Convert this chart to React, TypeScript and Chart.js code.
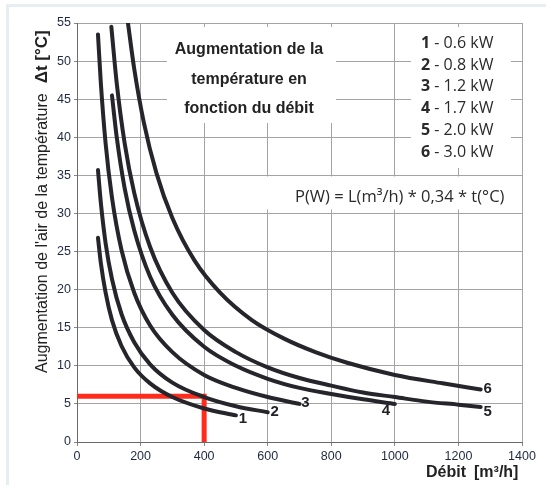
import React, { useEffect, useRef } from "react";
import { Chart, registerables } from "chart.js";

Chart.register(...registerables);

// ---- data ----
const xTicks = [0, 200, 400, 600, 800, 1000, 1200, 1400];
const yTicks = [0, 5, 10, 15, 20, 25, 30, 35, 40, 45, 50, 55];

const curveNames = ["1", "2", "3", "4", "5", "6"];

const flow1 = [66, 75, 90, 110, 140, 180, 230, 300, 400, 500];
const temp1 = [26.8, 23.5, 19.6, 16.0, 12.6, 9.8, 7.7, 5.9, 4.4, 3.5];

const flow2 = [66, 75, 90, 110, 140, 180, 230, 300, 400, 500, 600];
const temp2 = [35.7, 31.4, 26.1, 21.4, 16.8, 13.1, 10.2, 7.8, 5.9, 4.7, 3.9];

const flow3 = [66, 75, 90, 110, 140, 180, 230, 300, 400, 500, 600, 700];
const temp3 = [53.5, 47.1, 39.2, 32.1, 25.2, 19.6, 15.3, 11.8, 8.8, 7.1, 5.9, 5.0];

const flow4 = [110, 125, 150, 180, 230, 300, 400, 500, 600, 700, 800, 900, 1000];
const temp4 = [45.5, 40.0, 33.3, 27.8, 21.7, 16.7, 12.5, 10.0, 8.3, 7.1, 6.3, 5.6, 5.0];

const flow5 = [108, 125, 150, 180, 230, 300, 400, 500, 600, 700, 800, 900, 1000, 1100, 1200, 1270];
const temp5 = [54.5, 47.1, 39.2, 32.7, 25.6, 19.6, 14.7, 11.8, 9.8, 8.4, 7.4, 6.5, 5.9, 5.3, 4.9, 4.6];

const flow6 = [160, 180, 210, 250, 300, 370, 450, 550, 650, 750, 850, 1000, 1150, 1270];
const temp6 = [55.1, 49.0, 42.0, 35.3, 29.4, 23.8, 19.6, 16.0, 13.6, 11.8, 10.4, 8.8, 7.7, 6.9];

const redFlow = [0, 400, 400];
const redTemp = [6, 6, 0];

const legendNumbers = ["1", "2", "3", "4", "5", "6"];
const legendPowers = [" - 0.6 kW", " - 0.8 kW", " - 1.2 kW", " - 1.7 kW", " - 2.0 kW", " - 3.0 kW"];

const titleLines = ["Augmentation de la", "température en", "fonction du débit"];
const formulaText = "P(W) = L(m³/h) * 0,34 * t(°C)";
const yTitleMain = "Augmentation de l'air de la température";
const yTitleUnit = "Δt [°C]";
const xTitleMain = "Débit";
const xTitleUnit = "[m³/h]";

const flows = [flow1, flow2, flow3, flow4, flow5, flow6];
const temps = [temp1, temp2, temp3, temp4, temp5, temp6];

const ARIAL = "'Liberation Sans', Arial, sans-serif";
const MYRIAD = "'Open Sans', 'Noto Sans', sans-serif";

// label offsets relative to the curve's end point (pixels)
const labelOffsets: [number, number][] = [
  [7, 4],
  [7, 0],
  [6, -1],
  [-9, 7],
  [7, 4.5],
  [7, -1],
];

const overlayPlugin = {
  id: "overlayPlugin",
  beforeDraw(chart: any) {
    const ctx = chart.ctx;
    ctx.save();
    ctx.fillStyle = "#ffffff";
    ctx.fillRect(0, 0, chart.width, chart.height);
    ctx.fillStyle = "#e6eef2";
    ctx.fillRect(6, 4, chart.width - 6, 3);
    ctx.fillRect(6, 4, 3, chart.height - 4);
    ctx.restore();
  },
  beforeDatasetsDraw(chart: any) {
    const ctx = chart.ctx;
    ctx.save();
    ctx.fillStyle = "#ffffff";
    // title box
    ctx.fillRect(167, 27, 169, 96);
    // legend box
    ctx.fillRect(411, 27, 100, 141);
    // formula box
    ctx.fillRect(236, 176.5, 284, 33);
    ctx.restore();
  },
  afterDatasetsDraw(chart: any) {
    const ctx = chart.ctx;
    const xs = chart.scales.x;
    const ys = chart.scales.y;
    ctx.save();

    // curve end labels
    ctx.fillStyle = "#222226";
    ctx.font = `bold 15px ${ARIAL}`;
    ctx.textAlign = "center";
    ctx.textBaseline = "middle";
    curveNames.forEach((name, i) => {
      const f = flows[i];
      const t = temps[i];
      const px = xs.getPixelForValue(f[f.length - 1]);
      const py = ys.getPixelForValue(t[t.length - 1]);
      ctx.fillText(name, px + labelOffsets[i][0], py + labelOffsets[i][1]);
    });

    // title box text
    ctx.fillStyle = "#222222";
    ctx.font = `bold 16px ${ARIAL}`;
    ctx.textAlign = "center";
    ctx.textBaseline = "alphabetic";
    titleLines.forEach((line, i) => {
      ctx.fillText(line, 249, 54 + i * 29.7);
    });

    // legend
    ctx.textAlign = "left";
    ctx.fillStyle = "#2a2a2a";
    legendNumbers.forEach((num, i) => {
      const y = 47.7 + i * 21.8;
      ctx.font = `bold 16px ${MYRIAD}`;
      ctx.fillText(num, 421, y);
      const w = ctx.measureText(num).width;
      ctx.font = `16px ${MYRIAD}`;
      ctx.fillText(legendPowers[i], 421 + w, y);
    });

    // formula
    ctx.font = `16.5px ${MYRIAD}`;
    ctx.fillText(formulaText, 295, 201.5);

    // y axis title
    ctx.save();
    ctx.translate(46.7, 373);
    ctx.rotate(-Math.PI / 2);
    ctx.fillStyle = "#222222";
    ctx.font = `16px ${ARIAL}`;
    ctx.textAlign = "left";
    ctx.fillText(yTitleMain, 0, 0);
    const wMain = ctx.measureText(yTitleMain).width;
    ctx.font = `bold 17px ${ARIAL}`;
    ctx.fillText(yTitleUnit, wMain + 10, 0);
    ctx.restore();

    // x axis title
    ctx.fillStyle = "#222222";
    ctx.font = `bold 16px ${ARIAL}`;
    ctx.textAlign = "left";
    ctx.fillText(xTitleMain, 426, 477.3);
    ctx.fillText(xTitleUnit, 474, 477.3);

    ctx.restore();
  },
};

export default function App() {
  const canvasRef = useRef<HTMLCanvasElement | null>(null);

  useEffect(() => {
    const canvas = canvasRef.current;
    if (!canvas) return;

    const curveDatasets = flows.map((f, i) => ({
      label: curveNames[i],
      data: f.map((x, j) => ({ x, y: temps[i][j] })),
      borderColor: "#25252b",
      borderWidth: 4,
      pointRadius: 0,
      fill: false,
      cubicInterpolationMode: "monotone" as const,
      borderCapStyle: "round" as const,
      clip: 0,
      order: 0,
    }));

    const redDataset = {
      label: "exemple",
      data: redFlow.map((x, j) => ({ x, y: redTemp[j] })),
      borderColor: "#ff2b1c",
      borderWidth: 5,
      pointRadius: 0,
      fill: false,
      tension: 0,
      borderJoinStyle: "miter" as const,
      borderCapStyle: "butt" as const,
      clip: 0,
      order: 10,
    };

    const tickFont = { family: ARIAL, size: 12.5 };

    const chart = new Chart(canvas, {
      type: "line",
      data: { datasets: [...curveDatasets, redDataset] as any },
      options: {
        animation: false,
        responsive: false,
        devicePixelRatio: window.devicePixelRatio || 1,
        layout: { padding: { left: 0, right: 24, top: 23, bottom: 0 } },
        plugins: {
          legend: { display: false },
          tooltip: { enabled: false },
          title: { display: false },
        },
        scales: {
          x: {
            type: "linear",
            min: 0,
            max: 1400,
            afterBuildTicks: (s: any) => {
              s.ticks = xTicks.map((v) => ({ value: v }));
            },
            afterFit: (s: any) => {
              s.height = 43;
            },
            grid: {
              color: "#a4a4a4",
              lineWidth: 1,
              tickLength: 4,
              tickColor: "#888888",
            },
            border: { color: "#6a6a6a", width: 1 },
            ticks: {
              color: "#1e2840",
              font: tickFont,
              padding: 3,
              maxRotation: 0,
              autoSkip: false,
              callback: (v: any) => String(v),
            },
          },
          y: {
            type: "linear",
            min: 0,
            max: 55,
            afterBuildTicks: (s: any) => {
              s.ticks = yTicks.map((v) => ({ value: v }));
            },
            afterFit: (s: any) => {
              s.width = 77;
            },
            grid: {
              color: "#a4a4a4",
              lineWidth: 1,
              tickLength: 3,
              tickColor: "#888888",
            },
            border: { color: "#6a6a6a", width: 1 },
            ticks: {
              color: "#1e2840",
              font: tickFont,
              padding: 3,
              autoSkip: false,
              callback: (v: any) => String(v),
            },
          },
        },
      },
      plugins: [overlayPlugin],
    });

    return () => {
      chart.destroy();
    };
  }, []);

  return (
    <div style={{ position: "fixed", left: 0, top: 0, width: 546, height: 485, background: "#fff" }}>
      <canvas ref={canvasRef} width={546} height={485} style={{ display: "block", width: 546, height: 485 }} />
    </div>
  );
}
